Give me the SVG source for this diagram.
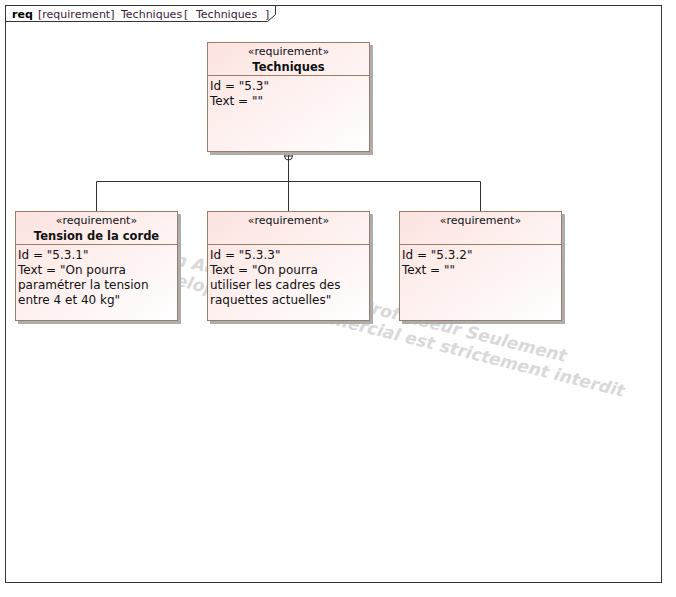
<svg xmlns="http://www.w3.org/2000/svg" width="676" height="597" viewBox="0 0 676 597">
  <defs>
    <linearGradient id="fill" x1="0" y1="0" x2="1" y2="1">
      <stop offset="0" stop-color="#fce3e0"/>
      <stop offset="1" stop-color="#ffffff"/>
    </linearGradient>
    <style>
      .frame{fill:none;stroke:#333;stroke-width:1}
      .shadow{fill:#adadad}
      .box{fill:url(#fill);stroke:#9a7c68;stroke-width:1}
      .div{stroke:#9a7c68;stroke-width:1}
      .conn{fill:none;stroke:#333;stroke-width:1}
      .st{font-family:"DejaVu Sans",sans-serif;font-size:11px;fill:#111;text-anchor:middle}
      .nm{font-family:"DejaVu Sans",sans-serif;font-size:11.5px;font-weight:bold;fill:#111;text-anchor:middle}
      .at{font-family:"DejaVu Sans",sans-serif;font-size:12px;fill:#111}
      .hd{font-family:"DejaVu Sans",sans-serif;font-size:11px;fill:#3a2238}
      .wm{font-family:"DejaVu Sans",sans-serif;font-size:17px;font-weight:bold;font-style:oblique;fill:#d9d9d9;text-anchor:end}
    </style>
  </defs>
  <rect width="676" height="597" fill="#fff"/>
  <g id="frame">
    <rect class="frame" x="5.5" y="5.5" width="656" height="577"/>
    <path class="frame" d="M5.5,21.5 H267.5 L275.5,14.5 V5.5"/>
    <text class="hd" y="18"><tspan x="12" font-weight="bold" fill="#000">req</tspan><tspan x="38">[requirement]</tspan><tspan x="121">Techniques</tspan><tspan x="184">[</tspan><tspan x="196">Techniques</tspan><tspan x="265">]</tspan></text>
  </g>
  <g id="watermark">
    <text class="wm" transform="translate(565,362) rotate(14)">Version Académique pour Professeur Seulement</text>
    <text class="wm" transform="translate(623,397) rotate(14)">Développement commercial est strictement interdit</text>
  </g>
  <g id="connectors">
    <path class="conn" d="M288.5,152 V211 M96.5,211 V181.5 H480.5 V211"/>
    <circle class="conn" cx="288.5" cy="156" r="4" fill="#fff"/>
    <path class="conn" d="M288.5,152 V160 M284.5,156 H292.5"/>
  </g>
  <g id="techniques">
    <rect class="shadow" x="210" y="45" width="163" height="110"/>
    <rect class="box" x="207.5" y="42.5" width="162" height="109"/>
    <line class="div" x1="207.5" y1="75.5" x2="369.5" y2="75.5"/>
    <text class="st" x="288.5" y="55">«requirement»</text>
    <text class="nm" x="288.5" y="71">Techniques</text>
    <text class="at" x="210" y="90">Id = "5.3"</text>
    <text class="at" x="210" y="105">Text = ""</text>
  </g>
  <g id="tension">
    <rect class="shadow" x="18" y="214" width="163" height="110"/>
    <rect class="box" x="15.5" y="211.5" width="162" height="109"/>
    <line class="div" x1="15.5" y1="244.5" x2="177.5" y2="244.5"/>
    <text class="st" x="96.5" y="224">«requirement»</text>
    <text class="nm" x="96.5" y="240">Tension de la corde</text>
    <text class="at" x="18" y="259">Id = "5.3.1"</text>
    <text class="at" x="18" y="274">Text = "On pourra</text>
    <text class="at" x="18" y="289">paramétrer la tension</text>
    <text class="at" x="18" y="304">entre 4 et 40 kg"</text>
  </g>
  <g id="req533">
    <rect class="shadow" x="210" y="214" width="163" height="110"/>
    <rect class="box" x="207.5" y="211.5" width="162" height="109"/>
    <line class="div" x1="207.5" y1="244.5" x2="369.5" y2="244.5"/>
    <text class="st" x="288.5" y="224">«requirement»</text>
    <text class="at" x="210" y="259">Id = "5.3.3"</text>
    <text class="at" x="210" y="274">Text = "On pourra</text>
    <text class="at" x="210" y="289">utiliser les cadres des</text>
    <text class="at" x="210" y="304">raquettes actuelles"</text>
  </g>
  <g id="req532">
    <rect class="shadow" x="402" y="214" width="163" height="110"/>
    <rect class="box" x="399.5" y="211.5" width="162" height="109"/>
    <line class="div" x1="399.5" y1="244.5" x2="561.5" y2="244.5"/>
    <text class="st" x="480.5" y="224">«requirement»</text>
    <text class="at" x="402" y="259">Id = "5.3.2"</text>
    <text class="at" x="402" y="274">Text = ""</text>
  </g>
</svg>
